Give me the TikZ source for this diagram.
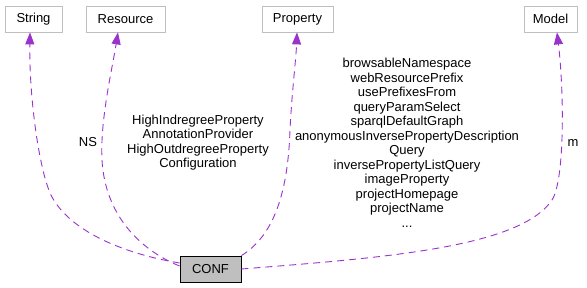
\documentclass[tikz,border=0pt]{standalone}
\usepackage{fontspec}
\setmainfont{Liberation Sans}
\usepackage{tikz}
\usetikzlibrary{arrows.meta}
\definecolor{edgepurple}{rgb}{0.60,0.20,0.80}
\definecolor{boxgray}{rgb}{0.75,0.75,0.75}
\tikzstyle{class} = [draw=boxgray, line width=0.8pt, minimum height=26pt, inner sep=0pt]
\tikzstyle{current} = [draw=black, fill=boxgray, line width=0.8pt, minimum height=26pt, inner sep=0pt]
\tikzstyle{usage} = [dash pattern=on 7pt off 5pt, draw=edgepurple, line width=0.9pt, -{Triangle[length=12pt,width=9pt]}]
\tikzstyle{elabel} = [align=center, inner sep=0pt]

\begin{document}
\begin{tikzpicture}[x=1pt, y=-1pt, every node/.style={font=\fontsize{13}{14.5}\selectfont}]
\useasboundingbox (0,0) rectangle (587,288);
% used classes
\node (string) at (33.5,19) [class, minimum width=57pt] {String};
\node (resource) at (125.5,19) [class, minimum width=79pt] {Resource};
\node (property) at (297.5,19) [class, minimum width=71pt] {Property};
\node (model) at (550.5,19) [class, minimum width=53pt] {Model};
\node (conf) at (210.5,269) [current, minimum width=61pt] {CONF};
% usage edges
\draw[usage] ([yshift=6pt]conf.west) .. controls (120,253) and (70,230) .. (52,197)
  .. controls (40,175) and (29,100) .. ([xshift=-3.5pt]string.south);
\draw[usage] ([yshift=3pt]conf.west) .. controls (140,250) and (105,215) .. (102,160)
  .. controls (100,120) and (112,70) .. ([xshift=-7.5pt]resource.south);
\draw[usage] (conf.north east) .. controls (275,235) and (288,190) .. (290,130)
  .. controls (292,90) and (296,60) .. ([xshift=-0.5pt]property.south);
\draw[usage] (conf.east) .. controls (380,258) and (520,248) .. (552,200)
  .. controls (565,180) and (564,90) .. ([xshift=6.5pt]model.south);
% member names
\node (ns) at (88,142) [elabel] {NS};
\node (reslabel) at (198,142.5) [elabel] {HighIndregreeProperty\\AnnotationProvider\\HighOutdregreeProperty\\Configuration};
\node (proplabel) at (407,143) [elabel] {browsableNamespace\\webResourcePrefix\\usePrefixesFrom\\queryParamSelect\\sparqlDefaultGraph\\anonymousInversePropertyDescription\\Query\\inversePropertyListQuery\\imageProperty\\projectHomepage\\projectName\\...};
\node (m) at (573,143) [elabel] {m};
\end{tikzpicture}
\end{document}
